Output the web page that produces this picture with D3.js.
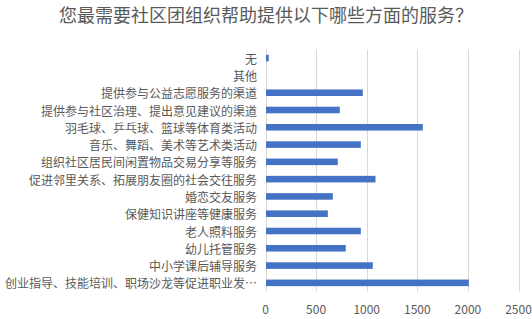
<!DOCTYPE html>
<html>
<head>
<meta charset="utf-8">
<script src="https://cdn.jsdelivr.net/npm/d3@7"></script>
<style>
  body { margin: 0; background: #fff; }
  svg { display: block; font-family: "Noto Sans CJK SC", sans-serif; }
</style>
</head>
<body>
<svg id="chart" width="532" height="319"></svg>
<script>
// categories, top to bottom
const categories = [
  '无',
  '其他',
  '提供参与公益志愿服务的渠道',
  '提供参与社区治理、提出意见建议的渠道',
  '羽毛球、乒乓球、篮球等体育类活动',
  '音乐、舞蹈、美术等艺术类活动',
  '组织社区居民间闲置物品交易分享等服务',
  '促进邻里关系、拓展朋友圈的社会交往服务',
  '婚恋交友服务',
  '保健知识讲座等健康服务',
  '老人照料服务',
  '幼儿托管服务',
  '中小学课后辅导服务',
  '创业指导、技能培训、职场沙龙等促进职业发…'
];
const counts = [32, 0, 961, 734, 1554, 942, 714, 1087, 665, 616, 942, 793, 1060, 2009];
const xTicks = [0, 500, 1000, 1500, 2000, 2500];
const title = '您最需要社区团组织帮助提供以下哪些方面的服务？';

const svg = d3.select('#chart');
const plot = { left: 265.5, right: 518.5, top: 49.5, bottom: 291.5 };

const x = d3.scaleLinear().domain([0, 2500]).range([plot.left, plot.right]);
const y = d3.scaleBand().domain(categories).range([plot.top, plot.bottom]).paddingInner(0.62).paddingOuter(0.31);

// title
svg.append('text')
   .attr('x', 266)
   .attr('y', 22)
   .attr('text-anchor', 'middle')
   .attr('font-size', '18px')
   .attr('fill', '#595959')
   .text(title);

// vertical grid lines
svg.append('g')
   .selectAll('line')
   .data(xTicks)
   .join('line')
   .attr('x1', d => Math.round(x(d)) + 0.5)
   .attr('x2', d => Math.round(x(d)) + 0.5)
   .attr('y1', plot.top)
   .attr('y2', plot.bottom)
   .attr('stroke', '#d9d9d9')
   .attr('stroke-width', 1);

// bars
svg.append('g')
   .selectAll('rect')
   .data(counts)
   .join('rect')
   .attr('x', x(0) + 0.5)
   .attr('y', (d, i) => y(categories[i]))
   .attr('width', d => Math.max(0, x(d) - x(0) - 0.5))
   .attr('height', y.bandwidth())
   .attr('fill', '#4472c4');

// category labels
svg.append('g')
   .selectAll('text')
   .data(categories)
   .join('text')
   .attr('x', plot.left - 8.5)
   .attr('y', d => y(d) + y.bandwidth() / 2)
   .attr('text-anchor', 'end')
   .attr('dominant-baseline', 'central')
   .attr('font-size', '12px')
   .attr('fill', '#595959')
   .text(d => d);

// x tick labels
svg.append('g')
   .selectAll('text')
   .data(xTicks)
   .join('text')
   .attr('x', d => x(d))
   .attr('y', 308)
   .attr('text-anchor', 'middle')
   .attr('dominant-baseline', 'central')
   .attr('font-size', '12px')
   .attr('fill', '#595959')
   .text(d => d);
</script>
</body>
</html>
